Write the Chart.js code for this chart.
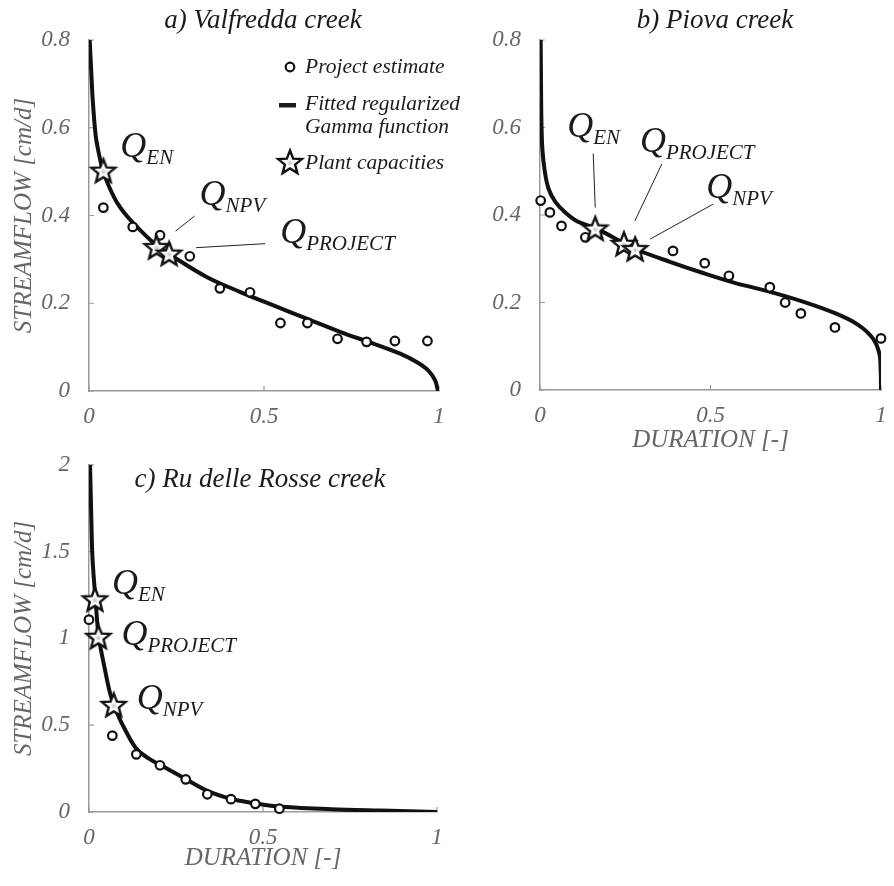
<!DOCTYPE html>
<html>
<head>
<meta charset="utf-8">
<script src="https://cdn.jsdelivr.net/npm/chart.js@4.4.1/dist/chart.umd.min.js"></script>
<style>
  html, body { margin: 0; padding: 0; background: #fff; }
  body { width: 894px; height: 886px; position: relative; overflow: hidden; }
  canvas { position: absolute; }
  #chartA { left: 0; top: 0; }
  #chartB { left: 470px; top: 0; }
  #chartC { left: 0; top: 440px; }
</style>
</head>
<body>
<canvas id="chartA" width="470" height="440"></canvas>
<canvas id="chartB" width="424" height="460"></canvas>
<canvas id="chartC" width="450" height="446"></canvas>
<script>
// ---- data ----
const xTicks = [0, 0.5, 1];
const yTicksAB = [0, 0.2, 0.4, 0.6, 0.8];
const yTicksC = [0, 0.5, 1, 1.5, 2];

const panelTitles = ['a) Valfredda creek', 'b) Piova creek', 'c) Ru delle Rosse creek'];
const legendTexts = ['Project estimate', 'Fitted regularized', 'Gamma function', 'Plant capacities'];
const yTitle = 'STREAMFLOW [cm/d]';
const xTitle = 'DURATION [-]';

// a) Valfredda creek
const durA = [0.041, 0.125, 0.203, 0.288, 0.374, 0.46, 0.547, 0.624, 0.71, 0.793, 0.874, 0.967];
const flowA = [0.418, 0.374, 0.355, 0.307, 0.234, 0.225, 0.155, 0.155, 0.119, 0.112, 0.114, 0.114];
const fitDurA = [0.002, 0.006, 0.011, 0.019, 0.026, 0.038, 0.055, 0.079, 0.107, 0.146, 0.193, 0.241, 0.336, 0.431, 0.527, 0.622, 0.717, 0.812, 0.889, 0.936, 0.969, 0.989, 0.997];
const fitFlowA = [0.8, 0.735, 0.659, 0.583, 0.55, 0.507, 0.47, 0.431, 0.4, 0.367, 0.332, 0.306, 0.26, 0.226, 0.195, 0.165, 0.135, 0.108, 0.085, 0.066, 0.047, 0.024, 0];
const capDurA = [0.041, 0.193, 0.229];
const capFlowA = [0.502, 0.328, 0.313];
const capNamesA = ['EN', 'NPV', 'PROJECT'];

// b) Piova creek
const durB = [0.002, 0.029, 0.063, 0.133, 0.39, 0.483, 0.554, 0.674, 0.719, 0.765, 0.865, 1.0];
const flowB = [0.433, 0.406, 0.375, 0.349, 0.318, 0.29, 0.261, 0.235, 0.2, 0.175, 0.143, 0.118];
const fitDurB = [0.002, 0.003, 0.004, 0.007, 0.014, 0.025, 0.045, 0.075, 0.11, 0.162, 0.246, 0.286, 0.381, 0.476, 0.571, 0.667, 0.771, 0.867, 0.933, 0.976, 0.995, 0.999, 1.0];
const fitFlowB = [0.8, 0.7, 0.62, 0.55, 0.5, 0.46, 0.43, 0.405, 0.385, 0.37, 0.336, 0.32, 0.293, 0.268, 0.245, 0.226, 0.202, 0.175, 0.149, 0.118, 0.084, 0.046, 0];
const capDurB = [0.162, 0.246, 0.279];
const capFlowB = [0.369, 0.334, 0.322];
const capNamesB = ['EN', 'PROJECT', 'NPV'];

// c) Ru delle Rosse creek
const durC = [0.0, 0.067, 0.136, 0.204, 0.278, 0.34, 0.408, 0.478, 0.547];
const flowC = [1.108, 0.44, 0.332, 0.269, 0.188, 0.102, 0.074, 0.047, 0.019];
const fitDurC = [0.003, 0.006, 0.01, 0.019, 0.028, 0.046, 0.063, 0.085, 0.105, 0.136, 0.17, 0.204, 0.269, 0.34, 0.411, 0.487, 0.554, 0.696, 0.839, 1.0];
const fitFlowC = [2.0, 1.749, 1.464, 1.218, 1.009, 0.819, 0.667, 0.55, 0.469, 0.365, 0.31, 0.272, 0.2, 0.122, 0.075, 0.046, 0.03, 0.016, 0.008, 0];
const capDurC = [0.017, 0.027, 0.071];
const capFlowC = [1.225, 1.009, 0.617];
const capNamesC = ['EN', 'PROJECT', 'NPV'];

// ---- styling / layout ----
const serif = "'Liberation Serif', 'Times New Roman', serif";
const ink = '#1b1b1b';
const axisGray = '#999';
const labelGray = '#666';

// label offsets (px) relative to each star, optional leader line
const capLayoutA = [
    { dx: 17, dy: -14 },
    { dx: 43, dy: -42, line: [19, -16, 38, -31] },
    { dx: 111, dy: -11, line: [27, -6, 96, -10] }
];
const capLayoutB = [
    { dx: -28, dy: -92, line: [-2, -75, 0, -21] },
    { dx: 16, dy: -92, line: [38, -80, 11, -23] },
    { dx: 71, dy: -51, line: [78, -45, 15, -10] }
];
const capLayoutC = [
    { dx: 17, dy: -5 },
    { dx: 23, dy: 8 },
    { dx: 23, dy: 4 }
];

function makeStar(size, outer, inner, lw) {
    const c = document.createElement('canvas');
    c.width = size; c.height = size;
    const ctx = c.getContext('2d');
    const path = (ro, ri) => {
        ctx.beginPath();
        for (let i = 0; i < 10; i++) {
            const r = i % 2 ? ri : ro;
            const a = -Math.PI / 2 + i * Math.PI / 5;
            ctx.lineTo(size / 2 + r * Math.cos(a), size / 2 + 1 + r * Math.sin(a));
        }
        ctx.closePath();
    };
    path(outer, inner);
    ctx.fillStyle = '#fff';
    ctx.fill();
    ctx.lineWidth = lw;
    ctx.strokeStyle = '#111';
    ctx.stroke();
    path(outer * 0.28, inner * 0.28);
    ctx.fillStyle = '#d0d0d0';
    ctx.fill();
    return c;
}
const starImg = makeStar(40, 12.5, 5.4, 2.4);

const notesPlugin = {
    id: 'notes',
    beforeDatasetsDraw(chart) {
        const { ctx, scales: { x, y } } = chart;
        ctx.save();
        ctx.strokeStyle = axisGray;
        ctx.lineWidth = 1.2;
        ctx.beginPath();
        x.ticks.forEach(t => {
            const px = x.getPixelForValue(t.value);
            ctx.moveTo(px, y.bottom);
            ctx.lineTo(px, y.bottom - 5);
        });
        y.ticks.forEach(t => {
            const py = y.getPixelForValue(t.value);
            ctx.moveTo(x.left, py);
            ctx.lineTo(x.left + 5, py);
        });
        ctx.stroke();
        ctx.restore();
    },
    afterDatasetsDraw(chart, args, opts) {
        const { ctx } = chart;
        ctx.save();
        ctx.fillStyle = ink;
        ctx.textBaseline = 'alphabetic';

        ctx.font = `italic 27px ${serif}`;
        ctx.textAlign = 'center';
        ctx.fillText(opts.title, opts.titleX, opts.titleY);

        ctx.textAlign = 'left';
        const stars = chart.getDatasetMeta(0).data;
        opts.layout.forEach((lab, i) => {
            const pt = stars[i];
            const qx = pt.x + lab.dx, qy = pt.y + lab.dy;
            ctx.font = `italic 36px ${serif}`;
            ctx.fillText('Q', qx, qy);
            ctx.font = `italic 21px ${serif}`;
            ctx.fillText(opts.names[i], qx + 26, qy + 7);
            if (lab.line) {
                ctx.strokeStyle = '#222';
                ctx.lineWidth = 1;
                ctx.beginPath();
                ctx.moveTo(pt.x + lab.line[0], pt.y + lab.line[1]);
                ctx.lineTo(pt.x + lab.line[2], pt.y + lab.line[3]);
                ctx.stroke();
            }
        });

        if (opts.legend) {
            const lx = 290, tx = 305;
            ctx.font = `italic 21.5px ${serif}`;
            // open circle
            ctx.beginPath();
            ctx.arc(lx, 67, 4.3, 0, Math.PI * 2);
            ctx.fillStyle = '#fff';
            ctx.fill();
            ctx.lineWidth = 2.2;
            ctx.strokeStyle = '#111';
            ctx.stroke();
            ctx.fillStyle = ink;
            ctx.fillText(legendTexts[0], tx, 73);
            // line
            ctx.fillRect(279, 103, 17, 4.5);
            ctx.fillText(legendTexts[1], tx, 110);
            ctx.fillText(legendTexts[2], tx, 133);
            // star
            ctx.drawImage(starImg, lx - 20, 163 - 21);
            ctx.fillText(legendTexts[3], tx, 169);
        }
        ctx.restore();
    }
};

function pts(xs, ys) {
    return xs.map((v, i) => ({ x: v, y: ys[i] }));
}

function makeChart(id, d) {
    const tickFont = { family: serif, size: 23, style: 'italic' };
    const titleFont = { family: serif, size: 25, style: 'italic' };
    return new Chart(document.getElementById(id), {
        type: 'scatter',
        data: {
            datasets: [
                {
                    label: 'Plant capacities',
                    data: pts(d.capDur, d.capFlow),
                    pointStyle: starImg,
                    pointRadius: 12,
                    clip: false
                },
                {
                    label: 'Project estimate',
                    data: pts(d.dur, d.flow),
                    pointStyle: 'circle',
                    pointRadius: 4.3,
                    borderWidth: 2.2,
                    borderColor: '#111',
                    backgroundColor: '#fff',
                    clip: false
                },
                {
                    label: 'Fitted regularized Gamma function',
                    data: pts(d.fitDur, d.fitFlow),
                    showLine: true,
                    pointRadius: 0,
                    borderColor: '#111',
                    borderWidth: 4,
                    tension: 0.35
                }
            ]
        },
        options: {
            responsive: false,
            animation: false,
            layout: { padding: d.padding },
            plugins: {
                legend: { display: false },
                tooltip: { enabled: false },
                notes: {
                    title: d.title, titleX: d.titleX, titleY: d.titleY,
                    layout: d.capLayout, names: d.capNames, legend: d.legend
                }
            },
            scales: {
                x: {
                    type: 'linear', min: 0, max: 1,
                    afterBuildTicks: s => { s.ticks = xTicks.map(v => ({ value: v })); },
                    afterFit: s => { s.height = d.xAxisH; },
                    grid: { display: false },
                    border: { color: axisGray, width: 1.5 },
                    ticks: { font: tickFont, color: labelGray, padding: 4, maxRotation: 0, callback: v => String(v) },
                    title: { display: d.showXTitle, text: xTitle, font: titleFont, color: labelGray, padding: { top: 0, bottom: d.xTitlePad } }
                },
                y: {
                    type: 'linear', min: 0, max: d.yTicks[d.yTicks.length - 1],
                    afterBuildTicks: s => { s.ticks = d.yTicks.map(v => ({ value: v })); },
                    afterFit: s => { s.width = d.yAxisW; },
                    grid: { display: false },
                    border: { color: axisGray, width: 1.5 },
                    ticks: { font: tickFont, color: labelGray, padding: 11, callback: v => String(v) },
                    title: { display: d.showYTitle, text: yTitle, font: titleFont, color: labelGray, padding: { top: 9, bottom: 0 } }
                }
            }
        },
        plugins: [notesPlugin]
    });
}

document.addEventListener('DOMContentLoaded', () => {
    makeChart('chartA', {
        dur: durA, flow: flowA, fitDur: fitDurA, fitFlow: fitFlowA,
        capDur: capDurA, capFlow: capFlowA, capNames: capNamesA, capLayout: capLayoutA,
        yTicks: yTicksAB, title: panelTitles[0], titleX: 263, titleY: 28, legend: true,
        padding: { top: 40, right: 31, bottom: 0, left: 0 }, yAxisW: 89, xAxisH: 49,
        showXTitle: false, showYTitle: true, xTitlePad: 0
    });
    makeChart('chartB', {
        dur: durB, flow: flowB, fitDur: fitDurB, fitFlow: fitFlowB,
        capDur: capDurB, capFlow: capFlowB, capNames: capNamesB, capLayout: capLayoutB,
        yTicks: yTicksAB, title: panelTitles[1], titleX: 245, titleY: 28, legend: false,
        padding: { top: 40, right: 4, bottom: 0, left: 0 }, yAxisW: 70, xAxisH: 70,
        showXTitle: true, showYTitle: false, xTitlePad: 5
    });
    makeChart('chartC', {
        dur: durC, flow: flowC, fitDur: fitDurC, fitFlow: fitFlowC,
        capDur: capDurC, capFlow: capFlowC, capNames: capNamesC, capLayout: capLayoutC,
        yTicks: yTicksC, title: panelTitles[2], titleX: 260, titleY: 47, legend: false,
        padding: { top: 21, right: 10, bottom: 0, left: 0 }, yAxisW: 89, xAxisH: 74,
        showXTitle: true, showYTitle: true, xTitlePad: 13
    });
});
</script>
</body>
</html>
